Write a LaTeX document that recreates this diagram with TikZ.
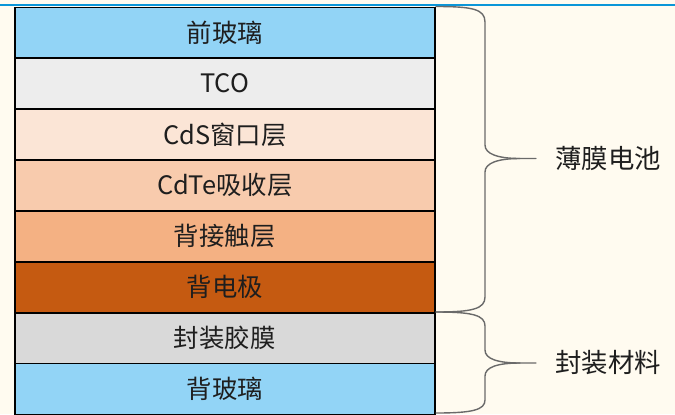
\documentclass[tikz,border=0pt]{standalone}
\usepackage{fontspec}
\setmainfont{Noto Sans CJK SC}
\definecolor{bgc}{HTML}{FFFBF0}
\definecolor{topline}{HTML}{0A96D8}
\definecolor{glass}{HTML}{92D4F6}
\definecolor{tco}{HTML}{EDEDED}
\definecolor{cds}{HTML}{FBE5D6}
\definecolor{cdte}{HTML}{F8CBAD}
\definecolor{bcont}{HTML}{F4B183}
\definecolor{belec}{HTML}{C55A11}
\definecolor{encap}{HTML}{D9D9D9}
\definecolor{txt}{HTML}{1E1E1E}
\definecolor{bracec}{HTML}{6A6A6A}
\begin{document}
\begin{tikzpicture}[x=1bp,y=-1bp,
  layer/.style={draw=black, line width=1.6bp, minimum width=420bp, minimum height=50.9bp,
    inner sep=0pt, text=txt, font=\fontsize{25.5}{28}\selectfont, anchor=north west},
  lab/.style={text=txt, font=\fontsize{26.5}{30}\selectfont, anchor=west, inner sep=0pt},
  bracestyle/.style={draw=bracec, line width=1.4bp, line cap=round}]
\fill[bgc] (0,0) rectangle (675,414);
\useasboundingbox (0,0) rectangle (675,414);
\draw[topline, line width=2bp] (0,4.5) -- (675,4.5);
\node[layer, fill=glass] (l1) at (14,6.5) {前玻璃};
\node[layer, fill=tco] (l2) at (14,57.4) {TCO};
\node[layer, fill=cds] (l3) at (14,108.3) {CdS窗口层};
\node[layer, fill=cdte] (l4) at (14,159.2) {CdTe吸收层};
\node[layer, fill=bcont] (l5) at (14,210.1) {背接触层};
\node[layer, fill=belec] (l6) at (14,261) {背电极};
\node[layer, fill=encap] (l7) at (14,311.9) {封装胶膜};
\node[layer, fill=glass] (l8) at (14,362.8) {背玻璃};
% braces
\coordinate (b1t) at (436,6.5);
\coordinate (b1m) at (436,312);
\coordinate (b1tip) at (536,158.5);
\coordinate (b2b) at (436,413);
\coordinate (b2tip) at (536,363);
\draw[bracestyle] (b1t) .. controls (472,6.5) and (485,9) .. (485,22) -- (485,145)
  .. controls (485,154) and (498,158.5) .. (520,158.5) -- (b1tip);
\draw[bracestyle] (b1m) .. controls (472,312) and (485,309) .. (485,297) -- (485,172)
  .. controls (485,163) and (498,158.5) .. (520,158.5);
\draw[bracestyle] (b1m) .. controls (472,312) and (485,315) .. (485,326) -- (485,350)
  .. controls (485,359) and (498,363) .. (520,363) -- (b2tip);
\draw[bracestyle] (b2b) .. controls (472,413) and (485,410) .. (485,400) -- (485,376)
  .. controls (485,367) and (498,363) .. (520,363);
\node[lab] (t1) at (555,158.5) {薄膜电池};
\node[lab] (t2) at (555,363) {封装材料};
\end{tikzpicture}
\end{document}
